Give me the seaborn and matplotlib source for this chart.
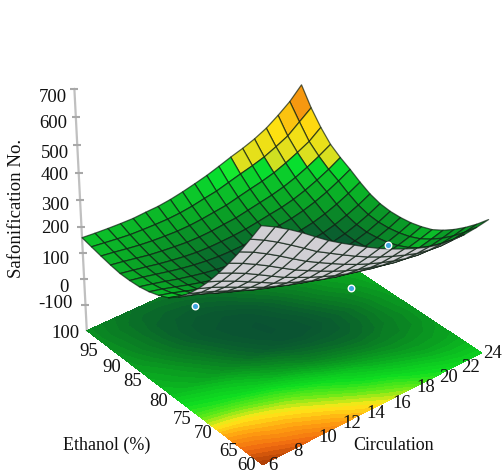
import numpy as np
import matplotlib
matplotlib.use("Agg")
import matplotlib.pyplot as plt
import seaborn as sns
from matplotlib.colors import LinearSegmentedColormap, Normalize
from mpl_toolkits.mplot3d import proj3d

# Response surface, rows = ethanol 60..100, columns = circulation 6..24
saponification = [
    [656, 631, 602, 570, 535, 501, 471, 443, 415, 389, 366, 345, 326, 310, 299, 293, 293, 298, 306],
    [585, 561, 533, 502, 470, 437, 410, 383, 357, 333, 312, 293, 276, 261, 252, 247, 249, 255, 264],
    [516, 494, 467, 438, 407, 377, 351, 326, 302, 280, 261, 244, 229, 216, 208, 206, 209, 216, 227],
    [451, 429, 404, 377, 348, 320, 296, 273, 251, 231, 214, 200, 187, 176, 170, 169, 173, 182, 194],
    [390, 369, 346, 320, 293, 267, 245, 224, 205, 187, 172, 160, 149, 140, 135, 136, 142, 153, 166],
    [333, 314, 292, 268, 244, 220, 199, 181, 163, 148, 135, 125, 116, 109, 107, 109, 117, 129, 143],
    [282, 265, 244, 222, 200, 178, 160, 143, 129, 116, 105, 97, 91, 86, 85, 90, 99, 112, 129],
    [237, 221, 202, 182, 162, 142, 126, 112, 99, 89, 80, 75, 71, 68, 69, 75, 86, 101, 119],
    [198, 184, 167, 148, 130, 113, 99, 86, 76, 68, 61, 58, 56, 55, 57, 65, 78, 94, 114],
    [169, 155, 139, 123, 106, 91, 78, 68, 59, 53, 48, 47, 47, 47, 51, 61, 74, 92, 113],
    [151, 138, 123, 108, 93, 79, 68, 59, 52, 48, 44, 44, 46, 47, 53, 63, 78, 96, 118],
    [138, 126, 112, 98, 85, 73, 63, 56, 51, 48, 47, 49, 52, 55, 62, 73, 89, 108, 131],
    [130, 119, 107, 94, 83, 73, 65, 59, 57, 56, 56, 60, 64, 69, 77, 90, 107, 128, 152],
    [127, 118, 107, 96, 86, 78, 72, 68, 67, 68, 70, 75, 82, 88, 98, 112, 130, 152, 177],
    [127, 118, 109, 99, 91, 84, 79, 77, 78, 80, 84, 91, 99, 106, 117, 132, 151, 173, 199],
    [133, 125, 116, 107, 101, 96, 92, 91, 93, 98, 102, 111, 120, 129, 141, 157, 177, 200, 226],
    [141, 134, 126, 119, 114, 111, 109, 110, 114, 120, 126, 137, 148, 158, 171, 189, 210, 233, 268],
    [150, 144, 138, 133, 131, 130, 130, 133, 139, 148, 156, 169, 182, 194, 208, 228, 250, 285, 320],
    [159, 155, 152, 150, 149, 152, 154, 160, 169, 180, 192, 207, 223, 237, 254, 276, 306, 340, 385],
]

# Contour plane on the floor, colour level 0..100
floor_levels = [
    [100, 96, 93, 89, 85, 81, 76, 72, 67, 63, 57, 52, 48, 45, 44],
    [92, 89, 85, 82, 78, 74, 69, 64, 59, 54, 48, 44, 40, 38, 38],
    [85, 82, 78, 75, 71, 66, 61, 55, 49, 44, 39, 35, 32, 32, 33],
    [77, 74, 71, 67, 63, 58, 52, 46, 40, 34, 30, 27, 27, 28, 31],
    [66, 64, 61, 57, 53, 47, 41, 34, 28, 24, 21, 21, 22, 25, 29],
    [56, 53, 50, 46, 41, 35, 29, 22, 18, 15, 14, 16, 20, 24, 29],
    [48, 45, 42, 38, 32, 25, 19, 13, 10, 9, 10, 14, 19, 25, 30],
    [40, 37, 33, 28, 22, 15, 9, 5, 3, 5, 9, 14, 20, 26, 31],
    [37, 33, 29, 23, 16, 10, 5, 2, 3, 6, 12, 18, 23, 28, 33],
    [34, 30, 24, 18, 12, 6, 3, 2, 5, 10, 16, 22, 27, 31, 34],
    [31, 26, 20, 14, 8, 5, 3, 4, 8, 14, 20, 25, 30, 33, 35],
    [29, 23, 18, 12, 8, 6, 6, 9, 14, 19, 24, 29, 32, 34, 36],
    [27, 22, 17, 12, 10, 9, 11, 14, 19, 24, 28, 31, 33, 35, 36],
    [26, 21, 17, 14, 13, 14, 16, 19, 24, 28, 31, 33, 34, 35, 36],
    [26, 22, 19, 17, 18, 19, 21, 24, 28, 30, 32, 34, 35, 35, 36],
]

# Design points
point_circulation = [13.1, 22.3, 23.1]
point_ethanol = [95, 84, 78]
point_saponification = [-200, -200, 25]

z_ticks = [-100, 0, 100, 200, 300, 400, 500, 600, 700]
z_labels = ["700", "600", "500", "400", "300", "200", "100", "0", "-100"]
ethanol_labels = ["100", "95", "90", "85", "80", "75", "70", "65", "60"]
circulation_labels = ["6", "8", "10", "12", "14", "16", "18", "20", "22", "24"]

# pixel centres of the hand placed labels in the original
z_label_pos = [(53, 97), (53, 123), (55, 153), (55, 176), (55, 205), (55, 229), (55, 259), (64, 287), (55, 303)]
ethanol_label_pos = [(65, 333), (89, 352), (112, 367), (133, 382), (159, 402), (182, 419), (203, 433), (229, 452), (247, 465)]
circulation_label_pos = [(273, 465), (298, 451), (328, 438), (352, 423), (376, 413), (402, 403), (426, 387), (449, 377), (471, 368), (492, 353)]

Z = np.array(saponification, dtype=float)
F = np.array(floor_levels, dtype=float)
X, Y = np.meshgrid(np.linspace(6, 24, Z.shape[1]), np.linspace(60, 100, Z.shape[0]))
X2, Y2 = np.meshgrid(np.linspace(6, 24, F.shape[1]), np.linspace(60, 100, F.shape[0]))

sns.set_theme(style="white")
plt.rcParams["font.family"] = ["Liberation Serif"]

fig = plt.figure(figsize=(5.03, 4.72), dpi=100)
ax = fig.add_axes([40.6 / 503, 5.6 / 472, 472 / 503, 1.0], projection="3d")
ax.set_proj_type("persp", focal_length=1)
ax.view_init(elev=33, azim=-129.5)
ax.set_box_aspect((1, 1, 1.0), zoom=1.03)
ax.set_xlim(6, 24, view_margin=0)
ax.set_ylim(60, 100, view_margin=0)
ax.set_zlim(-200, 700, view_margin=0)
ax.set_axis_off()
ax.computed_zorder = False

# Floor
floor_cmap = sns.blend_palette(
    ["#0a4f34", "#0a5e2e", "#0a7a24", "#0a9a20", "#0bc020", "#10e020", "#60ea18", "#ffe818", "#ffa010", "#f06a10", "#a83a05"],
    as_cmap=True,
)
ax.contourf(X2, Y2, F, levels=np.linspace(0, 100, 41), zdir="z", offset=-200, cmap=floor_cmap, vmin=0, vmax=100, zorder=1)

# Surface, each cell coloured by its mean, with the underside in grey
zlo, zhi = 40, 340
stops = [(40, "#0a5030"), (60, "#0a5c30"), (85, "#0a8228"), (120, "#0aa826"), (160, "#0cc82a"),
         (195, "#05ea30"), (199, "#d8e020"), (270, "#ffe010"), (340, "#f59010")]
surf_cmap = LinearSegmentedColormap.from_list("surf", [((a - zlo) / (zhi - zlo), c) for a, c in stops])
Zc = (Z[:-1, :-1] + Z[1:, :-1] + Z[:-1, 1:] + Z[1:, 1:]) / 4
# the right hand tip stays green in the original
Zc[:4] = np.minimum(Zc[:4], 110)
fc = surf_cmap(Normalize(zlo, zhi)(Zc))
tx, ty, _ = proj3d.proj_transform(X.ravel(), Y.ravel(), Z.ravel(), ax.get_proj())
tx = tx.reshape(X.shape)
ty = ty.reshape(X.shape)
facing = (tx[:-1, 1:] - tx[:-1, :-1]) * (ty[1:, :-1] - ty[:-1, :-1]) - (ty[:-1, 1:] - ty[:-1, :-1]) * (tx[1:, :-1] - tx[:-1, :-1])
fc[facing < 0] = (.82, .81, .83, 1)
ax.plot_surface(X, Y, Z, facecolors=fc, rstride=1, cstride=1, shade=False, edgecolor=(0.05, 0.12, 0.07, .7), linewidth=.9, zorder=2)

# z axis line and ticks
ax.plot([6, 6], [100, 100], [-200, 700], color="#c0c0c0", lw=1.6, zorder=0)
ax.scatter([6] * len(z_ticks), [100] * len(z_ticks), z_ticks, marker="_", s=30, color="#a8a8a8", depthshade=False, zorder=0)

ax.scatter(point_circulation, point_ethanol, point_saponification, s=22, color="#3fa7e0", edgecolor="white", linewidth=1.,
           depthshade=False, zorder=3)

labels = z_labels + ethanol_labels + circulation_labels
for lab, (px, py) in zip(labels, z_label_pos + ethanol_label_pos + circulation_label_pos):
    fig.text(px / 503, 1 - py / 472, lab, ha="center", va="center", fontsize=13.5, color="#111111")
fig.text(107 / 503, 1 - 445 / 472, "Ethanol (%)", ha="center", va="center", fontsize=13, color="#111111")
fig.text(394 / 503, 1 - 445 / 472, "Circulation", ha="center", va="center", fontsize=13, color="#111111")
fig.text(17 / 503, 1 - 208 / 472, "Safonification No.", ha="center", va="center", rotation=90, fontsize=13.5, color="#111111")

fig.savefig("out.png", dpi=100)
